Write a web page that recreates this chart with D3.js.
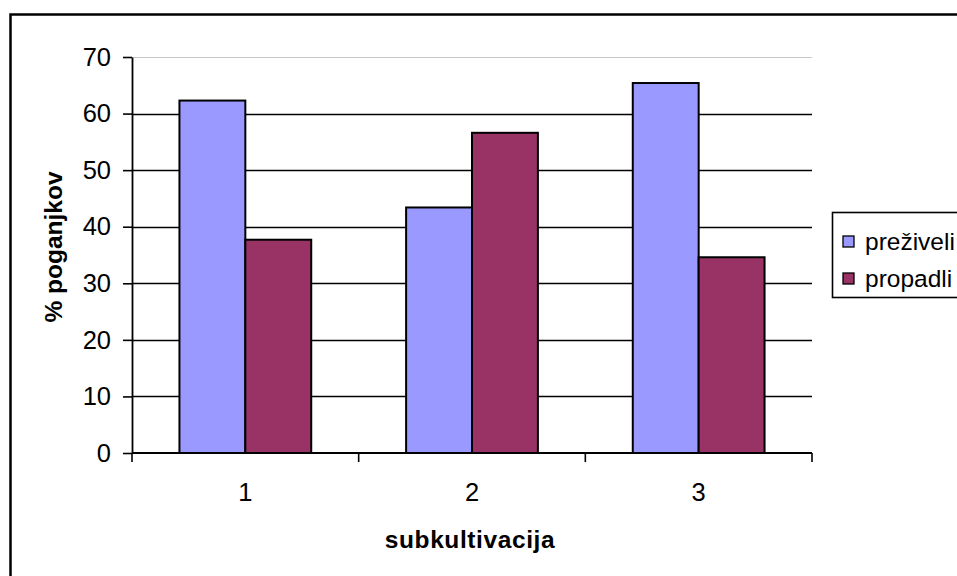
<!DOCTYPE html>
<html>
<head>
<meta charset="utf-8">
<script src="https://cdn.jsdelivr.net/npm/d3@7"></script>
<style>
  html, body { margin: 0; padding: 0; background: #fff; }
  svg { display: block; font-family: "Liberation Sans", Arial, sans-serif; }
</style>
</head>
<body>
<svg id="chart" width="957" height="576"></svg>
<script>
// Survival of shoots per subculture
const categories = ["1", "2", "3"];
const seriesNames = ["preživeli", "propadli"];
const preziveli = [62.3, 43.4, 65.4];
const propadli = [37.7, 56.6, 34.6];
const yTicks = [0, 10, 20, 30, 40, 50, 60, 70];
const seriesColors = ["#9999FF", "#993366"];

const seriesValues = [preziveli, propadli];
const rows = categories.map((c, i) => ({
  cat: c,
  vals: seriesNames.map((s, j) => ({ key: s, value: seriesValues[j][i], color: seriesColors[j] }))
}));

const svg = d3.select("#chart");

// outer chart frame (continues past the right and bottom edge)
svg.append("rect")
  .attr("x", 10.5).attr("y", 14.5)
  .attr("width", 1000).attr("height", 700)
  .attr("fill", "#fff").attr("stroke", "#000").attr("stroke-width", 2.5);

const plot = { left: 132, right: 812, top: 57, bottom: 453 };

const x0 = d3.scaleBand().domain(categories).range([plot.left, plot.right]).padding(0);
const x1 = d3.scaleBand().domain(seriesNames).range([0, x0.bandwidth()])
  .paddingInner(0).paddingOuter(0.72);
const y = d3.scaleLinear().domain([0, 70]).range([plot.bottom, plot.top]);

// horizontal gridlines
svg.append("g").selectAll("line")
  .data(yTicks.filter(t => t > 0))
  .join("line")
  .attr("x1", plot.left).attr("x2", plot.right)
  .attr("y1", d => Math.round(y(d)) + 0.5).attr("y2", d => Math.round(y(d)) + 0.5)
  .attr("stroke", d => d === 70 ? "#c8c8c8" : "#000")
  .attr("stroke-width", d => d === 70 ? 1 : 1.6);

// bars
const groups = svg.append("g").selectAll("g")
  .data(rows).join("g")
  .attr("transform", d => `translate(${x0(d.cat)},0)`);

groups.selectAll("rect")
  .data(d => d.vals).join("rect")
  .attr("x", d => x1(d.key))
  .attr("y", d => y(d.value))
  .attr("width", x1.bandwidth())
  .attr("height", d => y(0) - y(d.value))
  .attr("fill", d => d.color)
  .attr("stroke", "#000")
  .attr("stroke-width", 2);

// y axis
const yAxis = d3.axisLeft(y).tickValues(yTicks).tickSize(9).tickPadding(12).tickSizeOuter(0);
const gy = svg.append("g").attr("transform", `translate(${plot.left},0)`).call(yAxis);
gy.select(".domain").attr("stroke", "#000").attr("stroke-width", 1.8);
gy.selectAll(".tick line").attr("stroke", "#000").attr("stroke-width", 1.6);
gy.selectAll(".tick text")
  .attr("font-family", "Liberation Sans, Arial, sans-serif")
  .attr("font-size", 25.5).attr("fill", "#000");

// x axis: ticks at category boundaries
const gx = svg.append("g").attr("transform", `translate(0,${plot.bottom})`);
gx.append("line")
  .attr("x1", plot.left).attr("x2", plot.right)
  .attr("y1", 0).attr("y2", 0)
  .attr("stroke", "#000").attr("stroke-width", 2.2);
const boundaries = categories.map(c => x0(c)).concat([plot.right]);
gx.selectAll("line.tk").data(boundaries).join("line")
  .attr("class", "tk")
  .attr("x1", d => d).attr("x2", d => d)
  .attr("y1", 0).attr("y2", 9)
  .attr("stroke", "#000").attr("stroke-width", 1.6);
gx.selectAll("text").data(categories).join("text")
  .attr("x", d => x0(d) + x0.bandwidth() / 2)
  .attr("y", 48)
  .attr("text-anchor", "middle")
  .attr("font-size", 25.5).attr("fill", "#000")
  .text(d => d);

// axis titles
svg.append("text")
  .attr("x", (plot.left + plot.right) / 2 - 2).attr("y", 548)
  .attr("text-anchor", "middle")
  .attr("font-size", 24.5).attr("font-weight", "bold")
  .attr("letter-spacing", 0.6)
  .text("subkultivacija");

svg.append("text")
  .attr("transform", `translate(62,247) rotate(-90)`)
  .attr("text-anchor", "middle")
  .attr("font-size", 24.5).attr("font-weight", "bold")
  .text("% poganjkov");

// legend
const legend = svg.append("g");
legend.append("rect")
  .attr("x", 832.5).attr("y", 212.5)
  .attr("width", 200).attr("height", 85)
  .attr("fill", "#fff").attr("stroke", "#000").attr("stroke-width", 1.6);
const li = legend.selectAll("g.item").data(seriesNames).join("g")
  .attr("class", "item")
  .attr("transform", (d, i) => `translate(843,${236 + i * 37})`);
li.append("rect")
  .attr("x", 0).attr("y", 0).attr("width", 11).attr("height", 11)
  .attr("fill", (d, i) => seriesColors[i])
  .attr("stroke", "#000").attr("stroke-width", 1.3);
li.append("text")
  .attr("x", 22).attr("y", 14)
  .attr("font-size", 24.5).attr("fill", "#000")
  .text(d => d);
</script>
</body>
</html>
